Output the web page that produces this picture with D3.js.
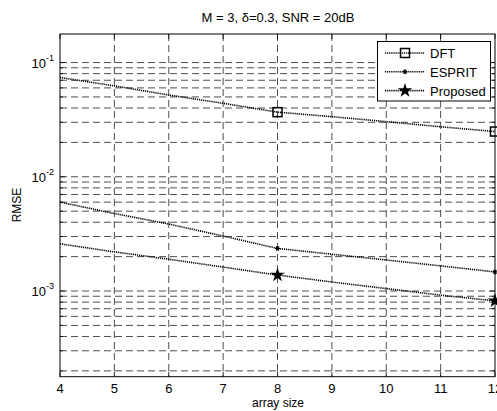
<!DOCTYPE html>
<html><head><meta charset="utf-8">
<script src="https://cdn.jsdelivr.net/npm/d3@7"></script>
<style>body{margin:0;background:#fff}svg{display:block}text{font-family:"Liberation Sans",Arial,sans-serif;fill:#000}</style>
</head><body>
<svg id="c" width="497" height="411"></svg>
<script>
const arraySize = [4,5,6,7,8,9,10,11,12];
const dft      = [0.074,0.0625,0.052,0.044,0.0368,0.0336,0.0304,0.0274,0.0249];
const esprit   = [0.0060,0.00477,0.00386,0.00303,0.00236,0.0021,0.00187,0.00166,0.00147];
const proposed = [0.00259,0.0022,0.0019,0.00162,0.00138,0.0012,0.00105,0.00092,0.00082];
const markerAt = [8,12];
const xTicks = [4,5,6,7,8,9,10,11,12];
const yDecades = [-1,-2,-3];
const seriesNames = ["DFT","ESPRIT","Proposed"];
const titleText = "M = 3, δ=0.3, SNR = 20dB";

const svg = d3.select("#c");
const L=60, R=495, T=34, B=376.7;
const x = d3.scaleLinear().domain([4,12]).range([L,R]);
const y = d3.scaleLog().domain([Math.pow(10,-3.75),Math.pow(10,-0.75)]).range([B,T]);

// grid
const grid = svg.append("g").attr("stroke","#3a3a3a").attr("stroke-width",0.9).attr("stroke-dasharray","7,4").attr("fill","none");
xTicks.slice(1,-1).forEach(v=>grid.append("line").attr("x1",x(v)).attr("x2",x(v)).attr("y1",T).attr("y2",B));
const minors=[];
for(let e=-4;e<=-1;e++) for(let m=1;m<=9;m++){const v=m*Math.pow(10,e); if(v>=y.domain()[0]&&v<=y.domain()[1]) minors.push(v);}
minors.forEach(v=>grid.append("line").attr("x1",L).attr("x2",R).attr("y1",y(v)).attr("y2",y(v)));

// ticks
const tk = svg.append("g").attr("stroke","#000").attr("stroke-width",0.8);
xTicks.forEach(v=>{tk.append("line").attr("x1",x(v)).attr("x2",x(v)).attr("y1",B).attr("y2",B-5);
  tk.append("line").attr("x1",x(v)).attr("x2",x(v)).attr("y1",T).attr("y2",T+5);});
minors.forEach(v=>{const major=Math.abs(Math.log10(v)-Math.round(Math.log10(v)))<1e-9; const l=major?5:3;
  tk.append("line").attr("x1",L).attr("x2",L+l).attr("y1",y(v)).attr("y2",y(v));
  tk.append("line").attr("x1",R).attr("x2",R-l).attr("y1",y(v)).attr("y2",y(v));});

// frame
svg.append("rect").attr("x",L).attr("y",T).attr("width",R-L).attr("height",B-T).attr("fill","none").attr("stroke","#000").attr("stroke-width",1);

// tick labels
xTicks.forEach(v=>svg.append("text").attr("x",x(v)).attr("y",B+16).attr("text-anchor","middle").attr("font-size",13).text(v));
yDecades.forEach(e=>{const t=svg.append("text").attr("x",54).attr("y",y(Math.pow(10,e))+5).attr("text-anchor","end").attr("font-size",13);
  t.append("tspan").text("10"); t.append("tspan").attr("dy",-7).attr("font-size",9).text(e);});

// title/labels
svg.append("text").attr("x",278).attr("y",22).attr("text-anchor","middle").attr("font-size",13).text(titleText);
svg.append("text").attr("x",278).attr("y",407).attr("text-anchor","middle").attr("font-size",12).text("array size");
svg.append("text").attr("transform","translate(21,205) rotate(-90)").attr("text-anchor","middle").attr("font-size",12).text("RMSE");

// series
const line = d3.line().x(d=>x(d[0])).y(d=>y(d[1]));
const plot = svg.append("g");
const allSeries=[dft,esprit,proposed];
function marker(g,i,cx,cy){
  if(i===0) g.append("rect").attr("x",cx-4.5).attr("y",cy-4.5).attr("width",9).attr("height",9).attr("fill","none").attr("stroke","#000").attr("stroke-width",1.5);
  else if(i===1){ [0,60,120].forEach(a=>{const r=a*Math.PI/180; g.append("line").attr("x1",cx-2.5*Math.cos(r)).attr("y1",cy-2.5*Math.sin(r)).attr("x2",cx+2.5*Math.cos(r)).attr("y2",cy+2.5*Math.sin(r)).attr("stroke","#000").attr("stroke-width",1.3);});}
  else g.append("path").attr("d",d3.symbol().type(d3.symbolStar).size(65)()).attr("transform",`translate(${cx},${cy})`).attr("fill","#000");
}
allSeries.forEach((s,i)=>{
  const data=arraySize.map((v,j)=>[v,s[j]]);
  plot.append("path").attr("d",line(data)).attr("fill","none").attr("stroke","#000").attr("stroke-width",1.6).attr("stroke-dasharray","1.2,0.9");
  markerAt.forEach(m=>{const j=arraySize.indexOf(m); marker(plot,i,x(m),y(s[j]));});
});

// legend
const lg = svg.append("g");
lg.append("rect").attr("x",377.5).attr("y",41.5).attr("width",113).attr("height",59.5).attr("fill","#fff").attr("stroke","#000").attr("stroke-width",1);
seriesNames.forEach((n,i)=>{const yy=53+i*18.8;
  lg.append("line").attr("x1",385).attr("x2",425).attr("y1",yy).attr("y2",yy).attr("stroke","#000").attr("stroke-width",1.6).attr("stroke-dasharray","1.2,0.9");
  marker(lg,i,405,yy);
  lg.append("text").attr("x",430).attr("y",yy+5).attr("font-size",13).text(n);});
</script>
</body></html>
